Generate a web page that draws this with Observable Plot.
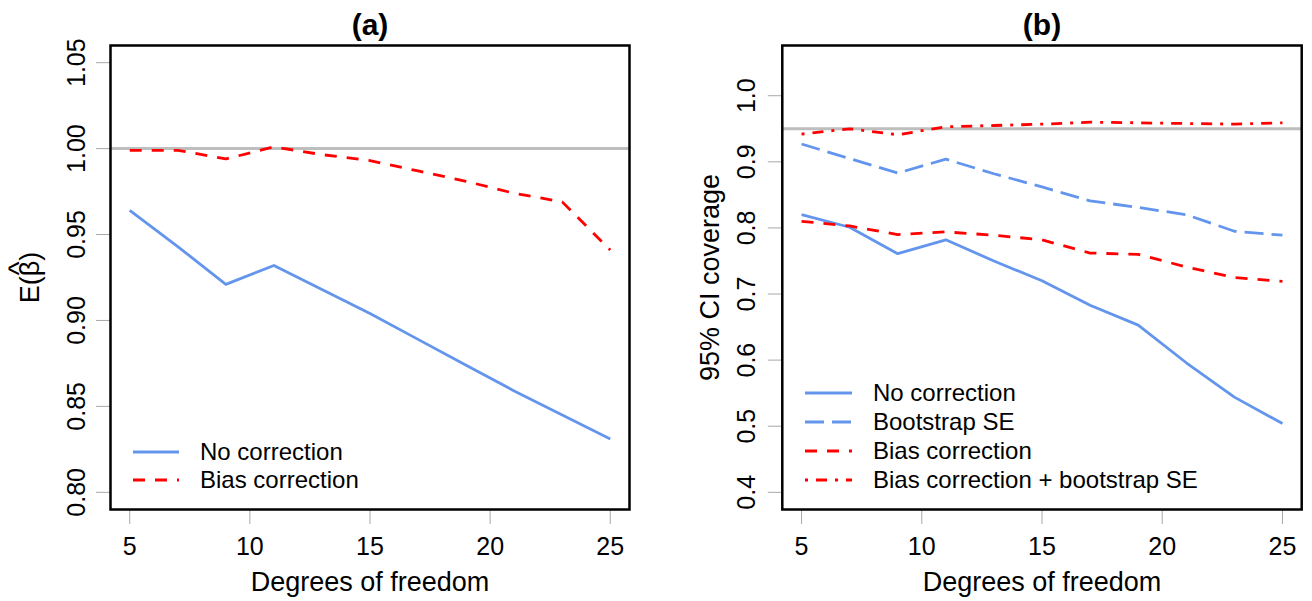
<!DOCTYPE html>
<html><head><meta charset="utf-8">
<script src="https://cdn.jsdelivr.net/npm/d3@7"></script>
<script src="https://cdn.jsdelivr.net/npm/@observablehq/plot@0.6"></script>
<style>
body{margin:0;background:#fff;font-family:"Liberation Sans",Arial,sans-serif;}
#wrap{position:relative;width:1312px;height:601px;overflow:hidden;background:#fff;}
#wrap > *{position:absolute;top:0;}
</style></head><body><div id="wrap"></div>
<script>
// ---- data ----
const degreesOfFreedom = [5, 7, 9, 11, 13, 15, 17, 19, 21, 23, 25];
const xTicks = [5, 10, 15, 20, 25];

// panel (a): E(beta-hat)
const aNoCorrection   = [0.964, 0.943, 0.921, 0.932, 0.918, 0.904, 0.889, 0.874, 0.859, 0.845, 0.831];
const aBiasCorrection = [0.999, 0.999, 0.994, 1.001, 0.9965, 0.993, 0.987, 0.981, 0.974, 0.969, 0.941];
const aYTicks = [0.80, 0.85, 0.90, 0.95, 1.00, 1.05];
const aReference = [1.00];
const aSeriesNames = ["No correction", "Bias correction"];

// panel (b): 95% CI coverage
const bNoCorrection     = [0.820, 0.801, 0.761, 0.782, 0.750, 0.720, 0.683, 0.653, 0.596, 0.544, 0.504];
const bBootstrapSE      = [0.927, 0.905, 0.883, 0.904, 0.882, 0.862, 0.841, 0.831, 0.820, 0.795, 0.789];
const bBiasCorrection   = [0.810, 0.803, 0.790, 0.794, 0.789, 0.782, 0.762, 0.760, 0.741, 0.725, 0.719];
const bBiasBootstrapSE  = [0.942, 0.950, 0.941, 0.953, 0.955, 0.957, 0.960, 0.959, 0.958, 0.957, 0.959];
const bYTicks = [0.4, 0.5, 0.6, 0.7, 0.8, 0.9, 1.0];
const bReference = [0.95];
const bSeriesNames = ["No correction", "Bootstrap SE", "Bias correction", "Bias correction + bootstrap SE"];

const titles = ["(a)", "(b)"];
const xLabel = "Degrees of freedom";
const yLabels = ["E(\u03B2)", "95% CI coverage"];
const hatGlyph = "^";

// ---- styles ----
const BLUE = "#6495ED", RED = "#FF0000";
const styleOf = {
  "No correction": {stroke: BLUE, dash: null},
  "Bootstrap SE": {stroke: BLUE, dash: "19,8"},
  "Bias correction": {stroke: RED, dash: "12,10"},
  "Bias correction + bootstrap SE": {stroke: RED, dash: "3,8,11,8"}
};
const FONT = '"Liberation Sans", Arial, sans-serif';

function rowsFor(name, values) {
  return degreesOfFreedom.map((d, i) => ({df: d, value: values[i], series: name}));
}

function panel({left, marginLeft, marginRight, yDomain, yTicks, fmt, ref, series, title, yLabel, yTickDx, yLabelDx, hat}) {
  const W = 656, H = 601;
  const marks = [
    Plot.ruleY(ref, {stroke: "#bebebe", strokeWidth: 3}),
    ...series.map(([name, vals]) => Plot.line(rowsFor(name, vals), {
      x: "df", y: "value", stroke: styleOf[name].stroke, strokeWidth: 2.8,
      strokeDasharray: styleOf[name].dash, strokeLinejoin: "round", strokeLinecap: "butt"
    })),
    Plot.axisX({ticks: xTicks, tickSize: 15, tickPadding: 13, stroke: "#a8a8a8", fill: "black", fontSize: 25, label: null}),
    Plot.axisY({ticks: yTicks, tickSize: 14, tickFormat: () => "", stroke: "#a8a8a8", label: null}),
    Plot.text(yTicks, {y: d => d, text: d => d3.format(fmt)(d), frameAnchor: "left", textAnchor: "middle", lineAnchor: "middle", dx: yTickDx, rotate: -90, fontSize: 25, fill: "black"}),
    Plot.text([xLabel], {text: d => d, frameAnchor: "bottom", textAnchor: "middle", lineAnchor: "middle", dy: 73, fontSize: 27, fill: "black"}),
    Plot.text([yLabel], {text: d => d, frameAnchor: "left", textAnchor: "middle", lineAnchor: "middle", dx: yLabelDx, rotate: -90, fontSize: 27, fill: "black"}),
    Plot.text([title], {text: d => d, frameAnchor: "top", textAnchor: "middle", lineAnchor: "middle", dy: -20, fontSize: 30, fontWeight: "bold", fill: "black"}),
    Plot.frame({stroke: "black", strokeWidth: 2.5})
  ];
  if (hat) marks.push(Plot.text([hatGlyph], {text: d => d, frameAnchor: "left", textAnchor: "middle", lineAnchor: "middle", dx: hat.dx, dy: hat.dy, rotate: -90, fontSize: 30, fill: "black"}));
  const svg = Plot.plot({
    width: W, height: H,
    marginLeft, marginRight, marginTop: 45, marginBottom: 92,
    x: {domain: [4.2, 25.8]},
    y: {domain: yDomain},
    style: {fontFamily: FONT, fontSize: "25px", color: "black", background: "transparent", overflow: "visible"},
    marks
  });
  svg.style.left = left + "px";
  return svg;
}

function legend({left, names, lineX0, lineX1, textX, rowYs}) {
  const svg = d3.create("svg").attr("width", 656).attr("height", 601)
    .style("left", left + "px").style("overflow", "visible");
  names.forEach((name, i) => {
    svg.append("line").attr("x1", lineX0).attr("x2", lineX1).attr("y1", rowYs[i]).attr("y2", rowYs[i])
      .attr("stroke", styleOf[name].stroke).attr("stroke-width", 2.8)
      .attr("stroke-dasharray", styleOf[name].dash).attr("stroke-linecap", "butt");
    svg.append("text").attr("x", textX).attr("y", rowYs[i]).attr("dy", "0.35em")
      .attr("font-family", FONT).attr("font-size", 24).attr("fill", "black").text(name);
  });
  return svg.node();
}

const wrap = document.getElementById("wrap");
wrap.appendChild(panel({
  left: 0, marginLeft: 110, marginRight: 27, yDomain: [0.79, 1.06], yTicks: aYTicks, fmt: ".2f",
  ref: aReference, series: [[aSeriesNames[0], aNoCorrection], [aSeriesNames[1], aBiasCorrection]],
  title: titles[0], yLabel: yLabels[0], yTickDx: -34, yLabelDx: -80, hat: {dx: -91, dy: -9}
}));
wrap.appendChild(panel({
  left: 656, marginLeft: 125.8, marginRight: 10.8, yDomain: [0.374, 1.076], yTicks: bYTicks, fmt: ".1f",
  ref: bReference,
  series: [[bSeriesNames[0], bNoCorrection], [bSeriesNames[1], bBootstrapSE], [bSeriesNames[2], bBiasCorrection], [bSeriesNames[3], bBiasBootstrapSE]],
  title: titles[1], yLabel: yLabels[1], yTickDx: -35, yLabelDx: -72
}));
wrap.appendChild(legend({left: 0, names: aSeriesNames, lineX0: 133, lineX1: 179, textX: 200, rowYs: [452, 480]}));
wrap.appendChild(legend({left: 656, names: bSeriesNames, lineX0: 149, lineX1: 196, textX: 217, rowYs: [393, 422, 451, 480]}));
</script>
</body></html>
